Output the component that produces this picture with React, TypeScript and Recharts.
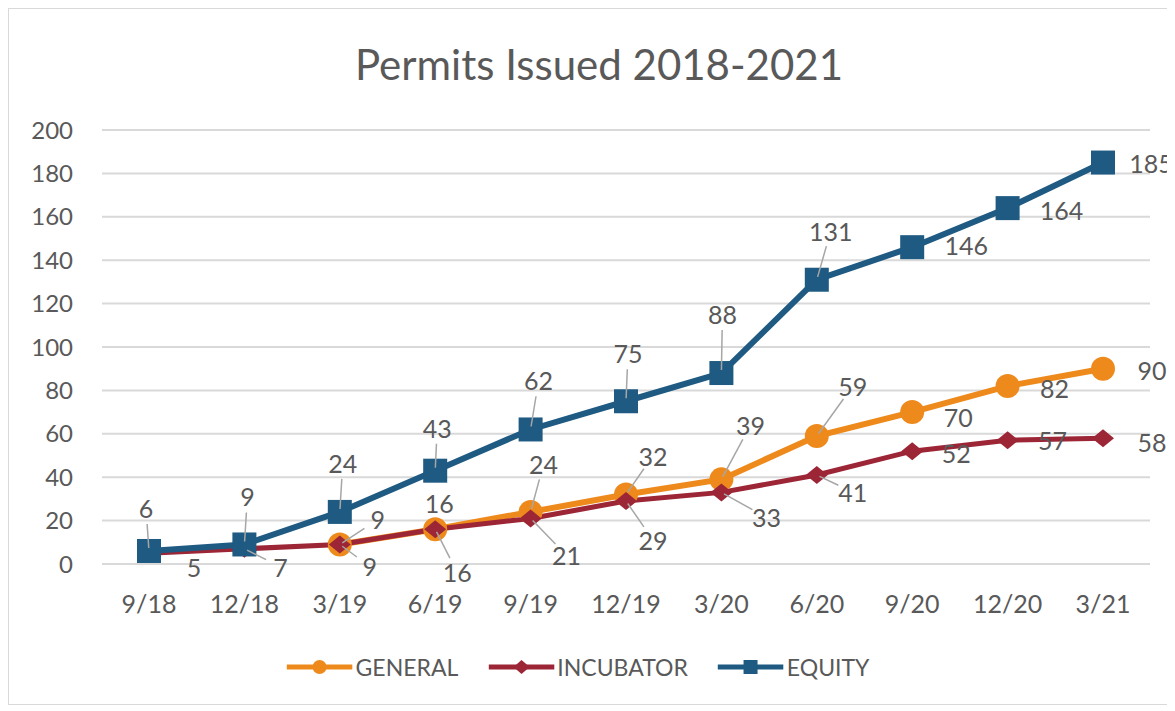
import React from 'react';
import { LineChart, Line, XAxis, YAxis, CartesianGrid, LabelList } from 'recharts';

const periods = ['9/18', '12/18', '3/19', '6/19', '9/19', '12/19', '3/20', '6/20', '9/20', '12/20', '3/21'];
const generalPermits = [null, null, 9, 16, 24, 32, 39, 59, 70, 82, 90];
const incubatorPermits = [5, 7, 9, 16, 21, 29, 33, 41, 52, 57, 58];
const equityPermits = [6, 9, 24, 43, 62, 75, 88, 131, 146, 164, 185];
const yTicks = [0, 20, 40, 60, 80, 100, 120, 140, 160, 180, 200];

const data = periods.map((period, i) => ({
  period,
  GENERAL: generalPermits[i],
  INCUBATOR: incubatorPermits[i],
  EQUITY: equityPermits[i],
}));

const FONT = 'Lato, "Open Sans", sans-serif';
const TEXT = '#595959';
const GRID = '#d9d9d9';
const ORANGE = '#ee8a1c';
const RED = '#9c2536';
const BLUE = '#1f5a82';

// label placement (dx, dy from the point), mimicking Excel's auto layout
const equityOffsets: [number, number][] = [
  [-3, -43], [3, -48], [3, -49], [2, -43], [8, -49], [2, -48], [1, -59], [14, -49], [54, -2], [54, 2], [48, 0],
];
const generalOffsets: ([number, number] | null)[] = [
  null, null, [38, -25], [4, -26], [13, -48], [27, -39], [29, -54], [36, -50], [46, 5], [47, 2], [49, 1],
];
const incubatorOffsets: [number, number][] = [
  [45, 14], [36, 18], [30, 22], [22, 43], [36, 37], [27, 39], [45, 25], [36, 17], [44, 2], [45, 0], [49, 4],
];

function makeLabel(offsets: ([number, number] | null)[]) {
  return (props: any) => {
    const { x, y, value, index } = props;
    const off = offsets[index];
    if (value == null || x == null || y == null || !off) return null;
    const [dx, dy] = off;
    const lx = x + dx;
    const ly = y + dy;
    const dist = Math.sqrt(dx * dx + dy * dy);
    const showLeader = Math.abs(dy) > 15 && dist > 28;
    let leader = null;
    if (showLeader) {
      const ux = dx / dist;
      const uy = dy / dist;
      const start = 3;
      const end = dist - 16;
      leader = (
        <line
          x1={x + ux * start}
          y1={y + uy * start}
          x2={x + ux * end}
          y2={y + uy * end}
          stroke="#a6a6a6"
          strokeWidth={1.5}
        />
      );
    }
    return (
      <g key={`lbl-${index}`}>
        {leader}
        <text
          x={lx}
          y={ly}
          textAnchor="middle"
          dominantBaseline="central"
          fill={TEXT}
          fontSize={25}
          fontFamily={FONT}
        >
          {value}
        </text>
      </g>
    );
  };
}

const circleDot = (props: any) => {
  const { cx, cy, index } = props;
  if (cx == null || cy == null || props.value == null) return <g key={`c-${index}`} />;
  return <circle key={`c-${index}`} cx={cx} cy={cy} r={12} fill={ORANGE} />;
};

const diamondDot = (props: any) => {
  const { cx, cy, index } = props;
  if (cx == null || cy == null) return <g key={`d-${index}`} />;
  return (
    <path
      key={`d-${index}`}
      d={`M${cx - 11},${cy} L${cx},${cy - 9} L${cx + 11},${cy} L${cx},${cy + 9} Z`}
      fill={RED}
    />
  );
};

const squareDot = (props: any) => {
  const { cx, cy, index } = props;
  if (cx == null || cy == null) return <g key={`s-${index}`} />;
  return <rect key={`s-${index}`} x={cx - 12} y={cy - 12} width={24} height={24} fill={BLUE} />;
};

const legendItems = [
  { name: 'GENERAL', color: ORANGE, marker: 'circle' },
  { name: 'INCUBATOR', color: RED, marker: 'diamond' },
  { name: 'EQUITY', color: BLUE, marker: 'square' },
];

function LegendMarker({ color, marker }: { color: string; marker: string }) {
  return (
    <svg width={66} height={22} style={{ display: 'block' }}>
      <line x1={0} y1={11} x2={66} y2={11} stroke={color} strokeWidth={5} />
      {marker === 'circle' && <circle cx={33} cy={11} r={7} fill={color} />}
      {marker === 'diamond' && <path d="M25,11 L33,4 L41,11 L33,18 Z" fill={color} />}
      {marker === 'square' && <rect x={26} y={4} width={14} height={14} fill={color} />}
    </svg>
  );
}

export default function App() {
  return (
    <div
      style={{
        position: 'relative',
        width: 1167,
        height: 697,
        borderTop: `1px solid ${GRID}`,
        borderLeft: `1px solid ${GRID}`,
        borderBottom: `1px solid ${GRID}`,
        boxSizing: 'border-box',
        overflow: 'hidden',
        fontFamily: FONT,
        background: '#fff',
      }}
    >
      <div
        style={{
          position: 'absolute',
          top: 31,
          left: 590,
          transform: 'translateX(-50%)',
          whiteSpace: 'nowrap',
          fontSize: 42,
          lineHeight: '48px',
          color: TEXT,
        }}
      >
        Permits Issued 2018-2021
      </div>
      <LineChart
        width={1166}
        height={695}
        data={data}
        margin={{ top: 121, right: 25, left: 0, bottom: 100 }}
      >
        <CartesianGrid vertical={false} stroke={GRID} strokeWidth={2} />
        <XAxis
          dataKey="period"
          padding={{ left: 47, right: 47 }}
          axisLine={{ stroke: GRID, strokeWidth: 2 }}
          tickLine={false}
          tickMargin={25}
          height={40}
          tick={{ fill: TEXT, fontSize: 25, fontFamily: FONT }}
          interval={0}
        />
        <YAxis
          domain={[0, 200]}
          ticks={yTicks}
          width={93}
          axisLine={false}
          tickLine={false}
          tickMargin={23}
          tick={{ fill: TEXT, fontSize: 24, fontFamily: FONT }}
        />
        <Line
          dataKey="GENERAL"
          stroke={ORANGE}
          strokeWidth={6}
          dot={circleDot}
          activeDot={false}
          isAnimationActive={false}
        >
          <LabelList dataKey="GENERAL" content={makeLabel(generalOffsets)} />
        </Line>
        <Line
          dataKey="INCUBATOR"
          stroke={RED}
          strokeWidth={5}
          dot={diamondDot}
          activeDot={false}
          isAnimationActive={false}
        >
          <LabelList dataKey="INCUBATOR" content={makeLabel(incubatorOffsets)} />
        </Line>
        <Line
          dataKey="EQUITY"
          stroke={BLUE}
          strokeWidth={6}
          dot={squareDot}
          activeDot={false}
          isAnimationActive={false}
        >
          <LabelList dataKey="EQUITY" content={makeLabel(equityOffsets)} />
        </Line>
      </LineChart>
      <div
        style={{
          position: 'absolute',
          top: 646,
          left: 569,
          transform: 'translateX(-50%)',
          display: 'flex',
          alignItems: 'center',
          gap: 30,
          whiteSpace: 'nowrap',
        }}
      >
        {legendItems.map((item) => (
          <div key={item.name} style={{ display: 'flex', alignItems: 'center', gap: 3 }}>
            <LegendMarker color={item.color} marker={item.marker} />
            <span style={{ fontSize: 23, color: TEXT, lineHeight: '24px' }}>{item.name}</span>
          </div>
        ))}
      </div>
    </div>
  );
}
